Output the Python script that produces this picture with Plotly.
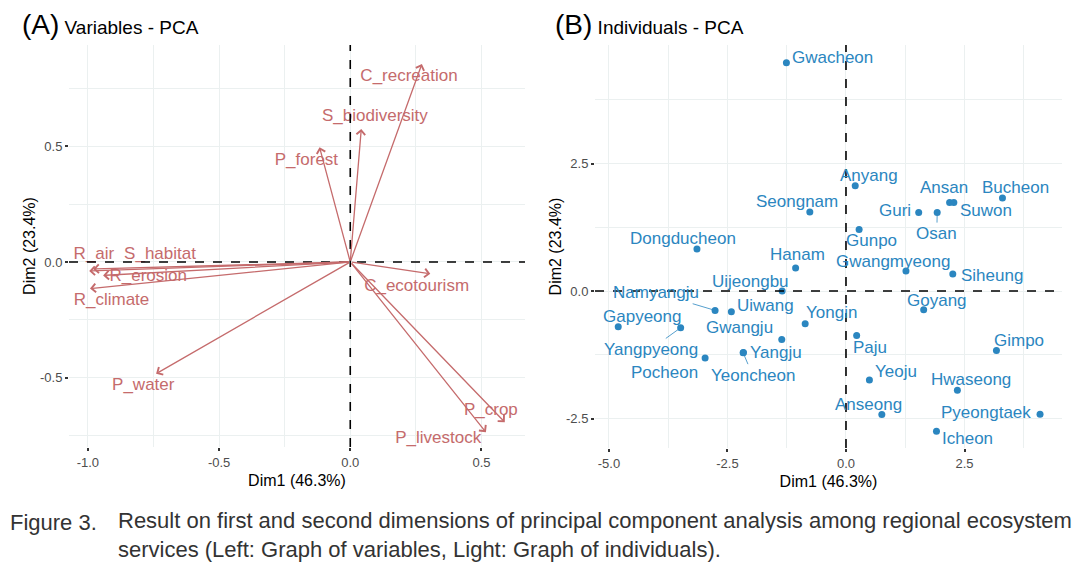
import plotly.graph_objects as go

# ---------------- data: variables (panel A) ----------------
var_names = ["C_recreation", "S_biodiversity", "P_forest", "R_air", "S_habitat",
             "R_erosion", "R_climate", "P_water", "C_ecotourism", "P_crop", "P_livestock"]
var_dim1 = [0.273, 0.042, -0.117, -0.995, -0.980, -0.942, -0.992, -0.740, 0.305, 0.589, 0.517]
var_dim2 = [0.856, 0.575, 0.496, -0.039, -0.030, -0.058, -0.115, -0.483, -0.051, -0.693, -0.736]

# ---------------- data: individuals (panel B) ----------------
ind_names = ["Gwacheon", "Anyang", "Seongnam", "Guri", "Osan", "Ansan", "Suwon", "Bucheon",
             "Gunpo", "Dongducheon", "Hanam", "Gwangmyeong", "Siheung", "Uijeongbu",
             "Namyangju", "Uiwang", "Gapyeong", "Yongin", "Goyang", "Gwangju", "Yangpyeong",
             "Paju", "Gimpo", "Yangju", "Yeoncheon", "Pocheon", "Yeoju", "Hwaseong",
             "Anseong", "Pyeongtaek", "Icheon"]
ind_dim1 = [-1.257, 0.195, -0.763, 1.534, 1.924, 2.186, 2.275, 3.301, 0.277, -3.144, -1.063,
            1.265, 2.253, -1.347, -2.762, -2.418, -4.805, -0.861, 1.639, -1.355, -3.488,
            0.225, 3.174, -2.163, -2.170, -2.972, 0.494, 2.350, 0.756, 4.094, 1.909]
ind_dim2 = [4.476, 2.062, 1.551, 1.538, 1.538, 1.734, 1.734, 1.826, 1.204, 0.825, 0.452,
            0.393, 0.334, 0.000, -0.380, -0.406, -0.700, -0.641, -0.366, -0.949, -0.720,
            -0.870, -1.165, -1.204, -1.210, -1.315, -1.747, -1.944, -2.421, -2.415, -2.749]

x_label = "Dim1 (46.3%)"
y_label = "Dim2 (23.4%)"

# ---------------- label placement (layout, not data) ----------------
var_lab_dx = [-0.049, 0.052, -0.050, 0.018, 0.255, 0.172, 0.082, -0.049, -0.052, -0.053, -0.182]
var_lab_dy = [-0.054, 0.051, -0.058, 0.072, 0.063, -0.007, -0.051, -0.051, -0.057, 0.051, -0.029]

ind_lab_dx = [0.973, 0.284, -0.277, -0.509, -0.008, -0.12, 0.674, 0.284, 0.254, -0.284, 0.03,
              -0.277, 0.831, -0.666, -1.25, 0.711, 0.494, 0.562, 0.277, -0.898, -0.636,
              0.291, 0.48, 0.681, 0.2, -0.853, 0.569, 0.285, -0.277, -1.13, 0.651]
ind_lab_dy = [0.104, 0.196, 0.196, 0.033, -0.412, 0.288, -0.163, 0.196, -0.209, 0.195, 0.255,
              0.183, -0.033, 0.196, 0.347, 0.131, 0.209, 0.222, 0.189, 0.236, -0.425,
              -0.236, 0.203, 0.0, -0.44, -0.288, 0.176, 0.21, 0.196, 0.033, -0.144]
ind_segment = {"Osan", "Namyangju", "Yangpyeong", "Yeoncheon"}

RED = "#C56B6C"
BLUE = "#2B86C0"
GRID = "#EBF0F0"
FONT = "Liberation Sans, Arial, sans-serif"
W, H = 1090, 567

fig = go.Figure()

# panel A arrows (annotations with arrow heads from origin to loading)
annotations = []
for n, x, y in zip(var_names, var_dim1, var_dim2):
    annotations.append(dict(x=x, y=y, ax=0, ay=0, xref="x", yref="y", axref="x", ayref="y",
                            text="", showarrow=True, arrowhead=4, arrowsize=1.3, arrowwidth=1.3,
                            arrowcolor=RED, standoff=0))
# panel A labels
fig.add_trace(go.Scatter(
    x=[x + dx for x, dx in zip(var_dim1, var_lab_dx)],
    y=[y + dy for y, dy in zip(var_dim2, var_lab_dy)],
    mode="text", text=var_names, textposition="middle center",
    textfont=dict(family=FONT, size=17, color=RED),
    xaxis="x", yaxis="y", showlegend=False, hoverinfo="skip", cliponaxis=False))

# panel B points
fig.add_trace(go.Scatter(
    x=ind_dim1, y=ind_dim2, mode="markers",
    marker=dict(color=BLUE, size=7, line=dict(width=0)),
    xaxis="x2", yaxis="y2", showlegend=False, text=ind_names))

for n, x, y, dx, dy in zip(ind_names, ind_dim1, ind_dim2, ind_lab_dx, ind_lab_dy):
    if n in ind_segment:
        annotations.append(dict(x=x, y=y, ax=x + dx, ay=y + dy, xref="x2", yref="y2",
                                axref="x2", ayref="y2", text=n, showarrow=True, arrowhead=0,
                                arrowwidth=0.8, arrowcolor=BLUE, standoff=3,
                                font=dict(family=FONT, size=17, color=BLUE)))
    else:
        annotations.append(dict(x=x + dx, y=y + dy, xref="x2", yref="y2", text=n,
                                showarrow=False, xanchor="center", yanchor="middle",
                                font=dict(family=FONT, size=17, color=BLUE)))

# titles
annotations.append(dict(x=20 / W, y=1 - 25 / H, xref="paper", yref="paper", xanchor="left",
                        yanchor="middle", showarrow=False,
                        text="<span style='font-size:28px'>(A)</span> Variables - PCA",
                        font=dict(family=FONT, size=19, color="#000000")))
annotations.append(dict(x=553 / W, y=1 - 25 / H, xref="paper", yref="paper", xanchor="left",
                        yanchor="middle", showarrow=False,
                        text="<span style='font-size:28px'>(B)</span> Individuals - PCA",
                        font=dict(family=FONT, size=19, color="#000000")))
# caption
CAP_FONT = "Liberation Sans Narrow, Arial Narrow, Liberation Sans, sans-serif"
annotations.append(dict(x=8 / W, y=1 - 522 / H, xref="paper", yref="paper", xanchor="left",
                        yanchor="middle", showarrow=False, text="Figure 3.",
                        font=dict(family=CAP_FONT, size=22, color="#333333")))
annotations.append(dict(x=116 / W, y=1 - 535 / H, xref="paper", yref="paper", xanchor="left",
                        yanchor="middle", showarrow=False, align="left",
                        text="Result on first and second dimensions of principal component analysis among regional ecosystem"
                             "<br>services (Left: Graph of variables, Light: Graph of individuals).",
                        font=dict(family=CAP_FONT, size=22, color="#333333")))

shapes = []
for xr, yr in (("x", "y"), ("x2", "y2")):
    shapes.append(dict(type="line", xref=xr, yref=yr + " domain", x0=0, x1=0, y0=0, y1=1,
                       line=dict(color="black", width=1.6, dash="dash"), layer="above"))
    shapes.append(dict(type="line", xref=xr + " domain", yref=yr, x0=0, x1=1, y0=0, y1=0,
                       line=dict(color="black", width=1.6, dash="dash"), layer="above"))

axis_common = dict(showline=False, zeroline=False, showgrid=True, gridcolor=GRID, gridwidth=1,
                   automargin=False,
                   ticks="outside", ticklen=3, tickwidth=1.5, tickcolor="#333333",
                   tickfont=dict(family=FONT, size=13, color="#4D4D4D"),
                   title_font=dict(family=FONT, size=16, color="#000000"))

fig.update_layout(
    width=W, height=H, margin=dict(l=0, r=0, t=0, b=0, autoexpand=False),
    paper_bgcolor="white", plot_bgcolor="white", showlegend=False,
    xaxis=dict(domain=[69 / W, 525 / W], range=[-1.072, 0.666], anchor="y",
               tickvals=[-1.0, -0.5, 0.0, 0.5], ticktext=["-1.0", "-0.5", "0.0", "0.5"],
               minor=dict(tickvals=[-0.75, -0.25, 0.25], showgrid=True, gridcolor=GRID, gridwidth=0.6, ticks=""),
               title=dict(text=x_label, standoff=6), **axis_common),
    yaxis=dict(domain=[1 - 447 / H, 1 - 45 / H], range=[-0.80, 0.938], anchor="x",
               tickvals=[-0.5, 0.0, 0.5], ticktext=["-0.5", "0.0", "0.5"],
               minor=dict(tickvals=[-0.75, -0.25, 0.25, 0.75], showgrid=True, gridcolor=GRID, gridwidth=0.6, ticks=""),
               title=dict(text=y_label, standoff=0), **axis_common),
    xaxis2=dict(domain=[595 / W, 1062 / W], range=[-5.295, 4.557], anchor="y2",
                tickvals=[-5.0, -2.5, 0.0, 2.5], ticktext=["-5.0", "-2.5", "0.0", "2.5"],
                minor=dict(tickvals=[-3.75, -1.25, 1.25, 3.75], showgrid=True, gridcolor=GRID, gridwidth=0.6, ticks=""),
                title=dict(text=x_label, standoff=6), **axis_common),
    yaxis2=dict(domain=[1 - 448 / H, 1 - 45 / H], range=[-3.078, 4.824], anchor="x2",
                tickvals=[-2.5, 0.0, 2.5], ticktext=["-2.5", "0.0", "2.5"],
                minor=dict(tickvals=[-1.25, 1.25, 3.75], showgrid=True, gridcolor=GRID, gridwidth=0.6, ticks=""),
                title=dict(text=y_label, standoff=0), **axis_common),
    annotations=annotations, shapes=shapes,
)

fig.write_html("out.html", config={"displayModeBar": False},
               post_script="document.body.style.margin='0';")
